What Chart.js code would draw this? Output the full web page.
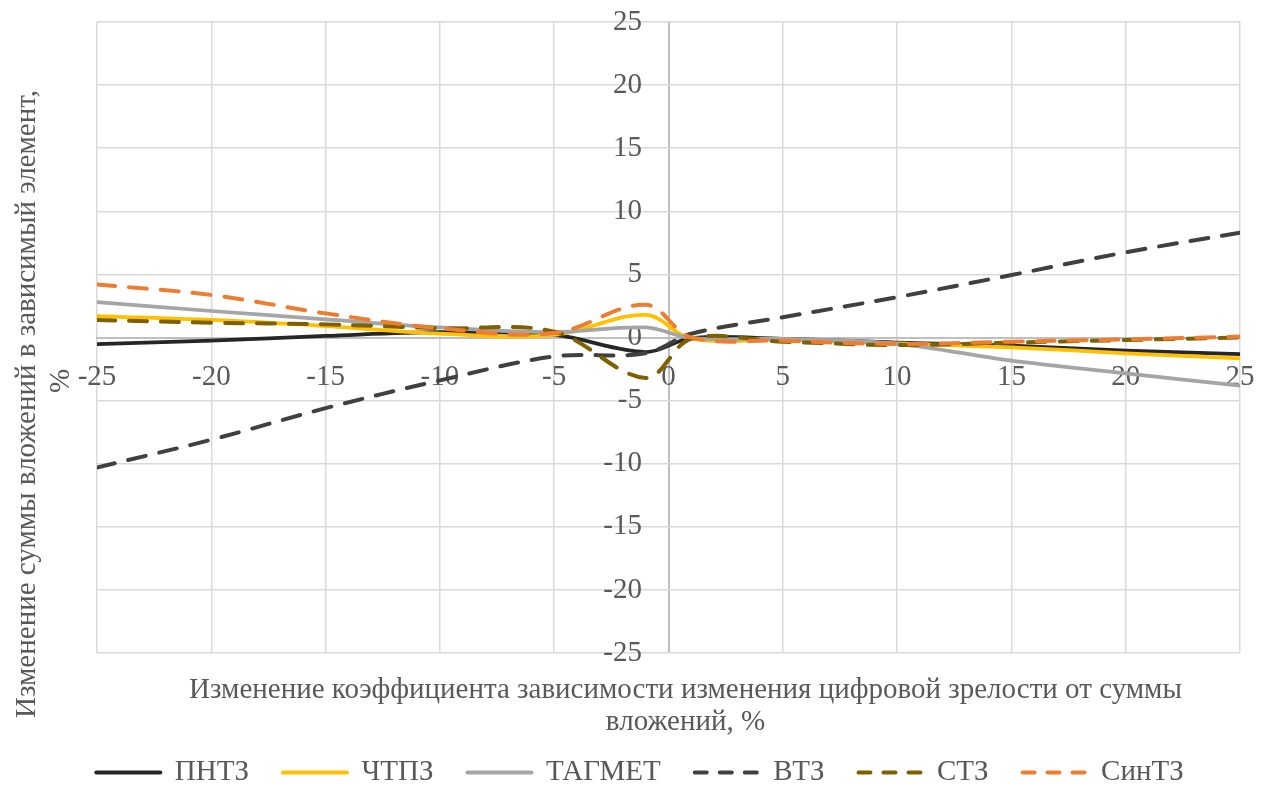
<!DOCTYPE html>
<html>
<head>
<meta charset="utf-8">
<title>Изменение суммы вложений</title>
<script src="https://cdn.jsdelivr.net/npm/chart.js@4/dist/chart.umd.min.js"></script>
<style>
  html, body { margin: 0; padding: 0; background: #ffffff; }
  canvas { display: block; }
</style>
</head>
<body>
<canvas id="chart" width="1267" height="785"></canvas>
<script>
// Change of the dependency coefficient, %
const xValues = [-25, -20, -15, -10, -5, -1, 1, 5, 10, 15, 20, 25];

// Change of the investment amount in the dependent element, %
const pntz   = [-0.52, -0.25, 0.12, 0.42, 0.2, -1.15, -0.05, -0.1, -0.4, -0.65, -1.04, -1.31];
const chtpz  = [1.7, 1.39, 0.91, 0.3, 0.2, 1.8, -0.1, -0.15, -0.47, -0.78, -1.25, -1.65];
const tagmet = [2.8, 2.1, 1.44, 0.8, 0.42, 0.8, -0.05, -0.1, -0.5, -1.84, -2.84, -3.82];
const vtz    = [-10.3, -8.1, -5.6, -3.4, -1.5, -1.25, 0.3, 1.6, 3.2, 4.95, 6.75, 8.3];
const stz    = [1.39, 1.17, 1.04, 0.73, 0.46, -3.2, -0.1, -0.33, -0.6, -0.4, -0.2, 0.0];
const sintz  = [4.2, 3.37, 1.91, 0.73, 0.35, 2.6, 0.0, -0.25, -0.52, -0.33, -0.15, 0.07];

const seriesNames = ['ПНТЗ', 'ЧТПЗ', 'ТАГМЕТ', 'ВТЗ', 'СТЗ', 'СинТЗ'];
const seriesValues = [pntz, chtpz, tagmet, vtz, stz, sintz];

const axisMin = -25;
const axisMax = 25;
const axisStep = 5;

const xTitleLines = ['Изменение коэффициента зависимости изменения цифровой зрелости от суммы', 'вложений, %'];
const yTitleLines = ['Изменение суммы вложений в зависимый элемент,', '%'];

// Line styles of the series
const seriesColors = ['#262626', '#FFC000', '#A5A5A5', '#404040', '#7F6000', '#ED7D31'];
const seriesDashed = [false, false, false, true, true, true];

const FONT_FAMILY = '"Liberation Serif", "Times New Roman", serif';
const FONT_SIZE = 29;
const TEXT_COLOR = '#595959';
const GRID_COLOR = '#D9D9D9';
const AXIS_COLOR = '#BFBFBF';
const lineDash = [18, 14];
const legendDash = [12, 13];
// the vertical axis labels sit a little to the left of the x = 0 line
const yLabelAnchor = -1.16;

const datasets = seriesNames.map((name, i) => ({
  label: name,
  data: xValues.map((x, j) => ({ x: x, y: seriesValues[i][j] })),
  borderColor: seriesColors[i],
  backgroundColor: seriesColors[i],
  borderWidth: seriesDashed[i] ? 4 : 3.75,
  borderDash: seriesDashed[i] ? lineDash : [],
  borderCapStyle: 'round',
  borderJoinStyle: 'round',
  pointRadius: 0,
  pointHoverRadius: 0,
  tension: 0.35,
  fill: false,
  order: seriesNames.length - i
}));

// Boxes around the plot area that hold the axis titles
function makeTitleBox(position, size, drawFn) {
  return {
    position: position,
    weight: 500,
    fullSize: false,
    options: {},
    chart: null,
    update(maxWidth, maxHeight) {
      if (position === 'bottom') { this.width = maxWidth; this.height = size; }
      else { this.width = size; this.height = maxHeight; }
    },
    isHorizontal() { return position === 'bottom'; },
    draw() { drawFn(this); }
  };
}

function setTextStyle(ctx) {
  ctx.fillStyle = TEXT_COLOR;
  ctx.font = FONT_SIZE + 'px ' + FONT_FAMILY;
  ctx.textAlign = 'center';
  ctx.textBaseline = 'middle';
}

const xTitleBox = makeTitleBox('bottom', 71, (box) => {
  const ctx = box.chart.ctx;
  const area = box.chart.chartArea;
  const cx = (area.left + area.right) / 2 + 17;
  ctx.save();
  setTextStyle(ctx);
  xTitleLines.forEach((line, k) => ctx.fillText(line, cx, box.top + 37 + k * 32));
  ctx.restore();
});

const yTitleBox = makeTitleBox('left', 57, (box) => {
  const ctx = box.chart.ctx;
  const positions = [[27, 404], [61, 381]];
  ctx.save();
  setTextStyle(ctx);
  yTitleLines.forEach((line, k) => {
    ctx.save();
    ctx.translate(positions[k][0], positions[k][1]);
    ctx.rotate(-Math.PI / 2);
    ctx.fillText(line, 0, 0);
    ctx.restore();
  });
  ctx.restore();
});

const axisTitles = {
  id: 'axisTitles',
  beforeInit(chart) {
    [xTitleBox, yTitleBox].forEach((box) => {
      box.chart = chart;
      Chart.layouts.addBox(chart, box);
    });
  }
};

const baseLabels = Chart.defaults.plugins.legend.labels.generateLabels;

const textFont = { family: FONT_FAMILY, size: FONT_SIZE };

new Chart(document.getElementById('chart'), {
  type: 'line',
  data: { datasets: datasets },
  plugins: [axisTitles],
  options: {
    responsive: false,
    animation: false,
    events: [],
    layout: { padding: { left: 40, right: 27, top: 22, bottom: -12 } },
    scales: {
      x: {
        type: 'linear',
        min: axisMin,
        max: axisMax,
        position: { y: 0 },
        ticks: {
          stepSize: axisStep,
          color: TEXT_COLOR,
          font: textFont,
          padding: 22,
          maxRotation: 0,
          autoSkip: false,
          callback: (v) => String(v)
        },
        grid: {
          color: (c) => (c.tick && c.tick.value === 0 ? AXIS_COLOR : GRID_COLOR),
          lineWidth: (c) => (c.tick && c.tick.value === 0 ? 2 : 1.5),
          drawTicks: false
        },
        border: { display: true, color: AXIS_COLOR, width: 2 },
        afterFit(scale) { scale.paddingLeft = 0; scale.paddingRight = 0; }
      },
      y: {
        type: 'linear',
        min: axisMin,
        max: axisMax,
        position: { x: yLabelAnchor },
        ticks: {
          stepSize: axisStep,
          color: TEXT_COLOR,
          font: textFont,
          padding: 0,
          autoSkip: false,
          callback: (v) => String(v)
        },
        grid: { color: GRID_COLOR, lineWidth: 1.5, drawTicks: false },
        border: { display: false },
        afterFit(scale) { scale.paddingTop = 0; scale.paddingBottom = 0; }
      }
    },
    plugins: {
      tooltip: { enabled: false },
      legend: {
        position: 'bottom',
        labels: {
          usePointStyle: true,
          pointStyle: 'line',
          pointStyleWidth: 64,
          padding: 34,
          color: TEXT_COLOR,
          font: textFont,
          sort: (a, b) => a.datasetIndex - b.datasetIndex,
          generateLabels(chart) {
            return baseLabels(chart).map((item) => {
              const i = item.datasetIndex;
              item.strokeStyle = seriesColors[i];
              item.fillStyle = seriesColors[i];
              item.lineWidth = 4;
              item.lineCap = 'round';
              item.lineDash = seriesDashed[i] ? legendDash : [];
              item.pointStyle = 'line';
              return item;
            });
          }
        }
      }
    }
  }
});
</script>
</body>
</html>
